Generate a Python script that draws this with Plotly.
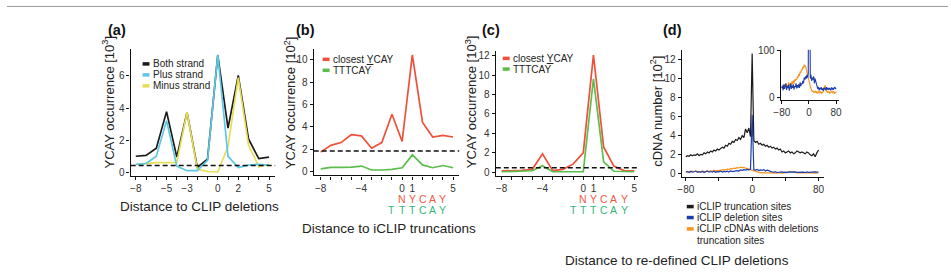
import plotly.graph_objects as go

# ---------------- data ----------------
pos_ab = list(range(-8, 6))
# panel (a)  [10^3]
both_strand = [1.0, 1.05, 1.5, 3.78, 0.95, 3.75, 0.3, 0.82, 7.3, 2.75, 6.04, 2.08, 0.85, 0.95]
plus_strand = [0.5, 0.55, 1.0, 3.22, 0.38, 0.1, 0.1, 0.75, 7.32, 1.0, 0.3, 0.45, 0.5, 0.45]
minus_strand = [0.5, 0.55, 0.6, 0.6, 0.62, 3.75, 0.2, 0.05, 0.02, 1.6, 5.9, 1.7, 0.35, 0.5]
baseline_a = 0.43
# panel (b)  [10^2]
closest_ycay_b = [1.75, 2.35, 2.6, 3.3, 3.2, 2.1, 2.6, 5.13, 2.7, 10.45, 4.4, 3.1, 3.25, 3.1]
tttcay_b = [0.25, 0.38, 0.38, 0.4, 0.5, 0.15, 0.15, 0.2, 0.35, 1.5, 0.6, 0.35, 0.55, 0.35]
baseline_b = 1.85
# panel (c)  [10^3]
closest_ycay_c = [0.13, 0.15, 0.2, 0.3, 1.9, 0.17, 0.3, 0.83, 2.0, 12.07, 2.6, 0.63, 0.17, 0.13]
tttcay_c = [0.05, 0.1, 0.15, 0.15, 0.67, 0.05, 0.05, 0.05, 0.05, 9.63, 1.07, 0.1, 0.05, 0.05]
baseline_c = 0.45
# panel (d)  (positions -80..80 step 2)
pos_d = list(range(-80, 81, 2))
truncation_sites = [1.8, 1.9, 1.85, 2.0, 1.9, 2.0, 1.95, 2.1, 1.9, 2.05, 2.0, 2.2, 2.1, 2.3, 2.2, 2.4, 2.3, 2.5, 2.4, 2.6,
                    2.5, 2.7, 2.8, 2.7, 3.0, 2.9, 3.2, 3.1, 3.4, 3.3, 3.6, 3.5, 3.8, 3.6, 4.0, 3.8, 4.7, 4.3, 4.8, 3.9,
                    12.6,
                    3.5, 3.3, 3.4, 3.1, 3.2, 3.0, 3.1, 2.9, 3.0, 2.8, 2.9, 2.7, 2.8, 2.6, 2.7, 2.5, 2.6, 2.3, 2.4, 2.2,
                    2.3, 2.4, 2.2, 2.3, 2.1, 2.2, 2.4, 2.3, 2.2, 2.3, 2.2, 2.1, 2.3, 2.2, 2.0, 1.9, 2.1, 1.8, 2.2, 2.5]
deletion_sites = [20, 25, 15, 28, 18, 22, 30, 16, 24, 20, 27, 14, 22, 30, 18, 25, 20, 28, 17, 24,
                  22, 30, 19, 26, 21, 28, 20, 32, 24, 30, 28, 35, 30, 42, 38, 45, 40, 48, 42, 50,
                  620,
                  45, 40, 48, 35, 42, 38, 45, 30, 40, 35, 25, 20, 18, 22, 15, 20, 17, 22, 16, 19,
                  14, 21, 18, 20, 15, 22, 17, 19, 16, 20, 18, 15, 21, 17, 19, 16, 20, 22, 18, 20]
cdna_deletions = [22, 18, 25, 20, 28, 22, 30, 24, 26, 20, 32, 25, 28, 30, 24, 34, 28, 36, 30, 38,
                  35, 40, 38, 45, 42, 50, 46, 55, 52, 60, 58, 65, 62, 70, 66, 68, 60, 55, 50, 45,
                  38,
                  30, 22, 18, 15, 12, 14, 10, 12, 11, 13, 10, 12, 9, 11, 13, 10, 12, 9, 11, 10,
                  12, 15, 22, 26, 18, 12, 10, 13, 11, 9, 12, 10, 11, 13, 10, 12, 9, 11, 10, 12]

# ---------------- style ----------------
FONT = "Liberation Sans, Arial, sans-serif"
W, H = 951, 272
BLACK = "#1b1b1b"
CYAN = "#5cc8e4"
YELLOW = "#e6df55"
RED = "#f0503a"
GREEN = "#5cbd4c"
NAVY = "#1f3da8"
ORANGE = "#f6941e"
TXT_RED = "#f05a45"
TXT_GREEN = "#35b87c"


def px(x):
    return x / W


def py(y):
    return 1 - y / H


fig = go.Figure()


def add(x, y, color, xa, ya, width=1.7):
    fig.add_trace(go.Scatter(x=x, y=y, mode="lines", line=dict(color=color, width=width),
                             xaxis=xa, yaxis=ya, showlegend=False, hoverinfo="skip"))


# panel a
add(pos_ab, both_strand, BLACK, "x", "y")
add(pos_ab, minus_strand, YELLOW, "x", "y")
add(pos_ab, plus_strand, CYAN, "x", "y")
# panel b
add(pos_ab, closest_ycay_b, RED, "x2", "y2")
add(pos_ab, tttcay_b, GREEN, "x2", "y2")
# panel c
add(pos_ab, closest_ycay_c, RED, "x3", "y3")
add(pos_ab, tttcay_c, GREEN, "x3", "y3")
# panel d
add(pos_d, truncation_sites, BLACK, "x4", "y4", 1.2)
add(pos_d, [v / 100 for v in cdna_deletions], ORANGE, "x4", "y4", 1.2)
add(pos_d, [v / 100 for v in deletion_sites], NAVY, "x4", "y4", 1.2)
# inset
add(pos_d, cdna_deletions, ORANGE, "x5", "y5", 1.1)
add(pos_d, deletion_sites, NAVY, "x5", "y5", 1.1)

tickfont = dict(family=FONT, size=10, color="#333333")
axbase = dict(showline=True, linecolor="#111111", linewidth=1.4, ticks="outside", ticklen=3,
              tickwidth=1.2, tickcolor="#111111", showgrid=False, zeroline=False,
              tickfont=tickfont, fixedrange=True)


def minor(vals):
    return dict(tickmode="array", tickvals=vals, ticks="outside", ticklen=3, tickwidth=1.2,
                tickcolor="#111111", showgrid=False)


ints = list(range(-8, 6))
layout_axes = dict(
    xaxis=dict(axbase, domain=[px(125), px(271)], range=[-8.5, 5.6], anchor="y",
               tickvals=[-8, -5, -3, 0, 2, 5], minor=minor(ints)),
    yaxis=dict(axbase, domain=[py(175.7), py(45)], range=[-0.2, 7.7], anchor="x",
               tickvals=[0, 2, 4, 6]),
    xaxis2=dict(axbase, domain=[px(310), px(457)], range=[-8.68, 5.6], anchor="y2",
                tickvals=[-8, -4, 0, 1, 5], minor=minor(ints)),
    yaxis2=dict(axbase, domain=[py(175.5), py(45)], range=[-0.33, 11.0], anchor="x2",
                tickvals=[0, 2, 4, 6, 8, 10]),
    xaxis3=dict(axbase, domain=[px(494), px(638)], range=[-8.58, 5.4], anchor="y3",
                tickvals=[-8, -4, 0, 1, 5], minor=minor(ints)),
    yaxis3=dict(axbase, domain=[py(176), py(47)], range=[-0.37, 12.53], anchor="x3",
                tickvals=[0, 2, 4, 6, 8, 10, 12]),
    xaxis4=dict(axbase, domain=[px(682), px(826)], range=[-84.8, 87], anchor="y4",
                tickvals=[-80, 0, 80], minor=minor([-40, 40])),
    yaxis4=dict(axbase, domain=[py(176.7), py(46)], range=[-0.27, 13.0], anchor="x4",
                tickvals=[0, 2, 4, 6, 8, 10, 12]),
    xaxis5=dict(axbase, domain=[px(782), px(841)], range=[-83, 89], anchor="y5",
                tickvals=[-80, 0, 80]),
    yaxis5=dict(axbase, domain=[py(98), py(46)], range=[-6, 102], anchor="x5",
                tickvals=[0, 100]),
)

shapes = []
# dashed baselines
for xa, ya, val in [("x", "y", baseline_a), ("x2", "y2", baseline_b), ("x3", "y3", baseline_c)]:
    shapes.append(dict(type="line", xref=xa + " domain", yref=ya, x0=0, x1=1, y0=val, y1=val,
                       line=dict(color="#111111", width=1.5, dash="5px,3px")))
# top frame line
shapes.append(dict(type="line", xref="paper", yref="paper", x0=0, x1=1, y0=py(1.5), y1=py(1.5),
                   line=dict(color="#9a9a9a", width=1)))

annotations = []


def text(x, y, s, size=10, color="#222222", xanchor="left", angle=0, bold=False):
    annotations.append(dict(x=px(x), y=py(y), xref="paper", yref="paper", text=s, showarrow=False,
                            xanchor=xanchor, yanchor="middle", textangle=angle,
                            font=dict(family=FONT, size=size, color=color,
                                      weight="bold" if bold else "normal")))


def legend_item(x, y, color, label, size=10):
    shapes.append(dict(type="line", xref="paper", yref="paper", x0=px(x), x1=px(x + 7),
                       y0=py(y), y1=py(y), line=dict(color=color, width=3.5)))
    text(x + 8.5, y, label, size=size)


# panel labels
for x, s in [(111.5, "(a)"), (301.5, "(b)"), (489, "(c)"), (673, "(d)")]:
    text(x, 26, s, size=14.5, color="#111111", xanchor="center", bold=True)

# legends
legend_item(137, 60.7, BLACK, "Both strand", 10)
legend_item(137, 72.0, CYAN, "Plus strand", 10)
legend_item(137, 83.3, YELLOW, "Minus strand", 10)
legend_item(319, 56, RED, "closest <u>Y</u>CAY", 10)
legend_item(319, 67.3, GREEN, "TTTCAY", 10)
legend_item(501, 55, RED, "closest <u>Y</u>CAY", 10)
legend_item(501, 66, GREEN, "TTTCAY", 10)
legend_item(687, 207.7, BLACK, "iCLIP truncation sites")
legend_item(687, 219, NAVY, "iCLIP deletion sites")
legend_item(687, 230.7, ORANGE, "iCLIP cDNAs with deletions")
text(695.5, 242.3, "truncation sites")

# axis titles
text(195, 208, "Distance to CLIP deletions", size=13.5, xanchor="center")
text(386.5, 230, "Distance to iCLIP truncations", size=13.5, xanchor="center")
text(677, 263, "Distance to re-defined CLIP deletions", size=13.5, xanchor="center")
text(102.5, 100, "YCAY occurrence [10<sup>3</sup>]", size=13, xanchor="center", angle=-90)
text(286, 100, "YCAY occurrence [10<sup>2</sup>]", size=13, xanchor="center", angle=-90)
text(469, 100, "YCAY occurrence [10<sup>3</sup>]", size=13, xanchor="center", angle=-90)
text(656, 110, "cDNA number [10<sup>2</sup>]", size=13, xanchor="center", angle=-90)

# motif letters under panels b and c
for xa in ("x2", "x3"):
    for i, ch in enumerate("NYCAY"):
        annotations.append(dict(x=i, y=py(200), xref=xa, yref="paper", text=ch, showarrow=False,
                                xanchor="center", yanchor="middle",
                                font=dict(family=FONT, size=10.5, color=TXT_RED)))
    for i, ch in enumerate("TTTCAY"):
        annotations.append(dict(x=i - 1, y=py(211.5), xref=xa, yref="paper", text=ch, showarrow=False,
                                xanchor="center", yanchor="middle",
                                font=dict(family=FONT, size=10.5, color=TXT_GREEN)))

fig.update_layout(width=W, height=H, margin=dict(l=0, r=0, t=0, b=0), paper_bgcolor="white",
                  plot_bgcolor="rgba(0,0,0,0)", showlegend=False, shapes=shapes,
                  annotations=annotations, font=dict(family=FONT), **layout_axes)

fig.write_html("out.html", config={"displayModeBar": False})
